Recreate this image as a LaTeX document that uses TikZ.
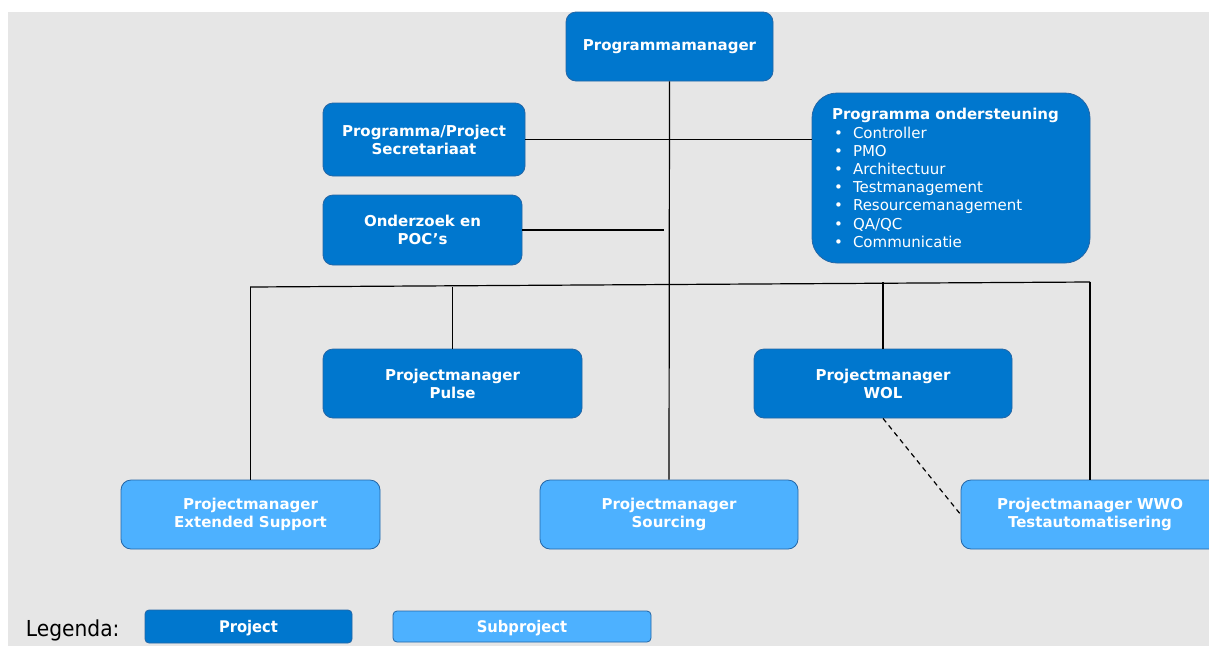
\documentclass[tikz,border=0pt]{standalone}
\usepackage{fontspec}
\setmainfont{DejaVu Sans}
\newfontfamily\legfont{DejaVu Sans}[FakeStretch=0.92]
\usetikzlibrary{positioning}

\definecolor{projblue}{HTML}{0077CE}
\definecolor{subblue}{HTML}{4DB1FF}
\definecolor{rim}{HTML}{2366A6}
\definecolor{bggray}{HTML}{E6E6E6}

\newcommand{\bul}{\makebox[21pt][l]{\hspace{2pt}\textbullet}}

\begin{document}
\begin{tikzpicture}[x=1pt,y=-1pt,line width=1.2pt]
  \tikzstyle{proj}=[draw=rim,line width=0.8pt,fill=projblue,text=white,rounded corners=10pt,
                    font=\fontsize{15}{18}\selectfont\bfseries,align=center,
                    inner sep=0pt,minimum height=69pt]
  \tikzstyle{sub}=[proj,fill=subblue]
  \tikzstyle{legbox}=[rounded corners=4pt,text depth=0pt,font=\legfont\fontsize{16}{18}\selectfont\bfseries]

  \clip (0,0) rectangle (1209,646);
  \fill[bggray] (8,12) rectangle (1209,646);

  % top of the organisation
  \node[proj,minimum width=207pt]		(pm)    at (669.5,46.5)	{Programmamanager};
  \node[proj,minimum width=202pt,minimum height=73pt]	(sec) at (424,139.5)	{Programma/Project\\Secretariaat};
  \node[proj,minimum width=199pt,minimum height=70pt]	(poc) at (422.5,230)	{Onderzoek en\\POC’s};
  \node[proj,rounded corners=25pt,minimum width=278pt,minimum height=170pt,
        text width=238pt,align=left,font=\fontsize{15}{18.2}\selectfont]	(ond) at (951,178)
       {\textbf{Programma ondersteuning}\\
        \bul Controller\\
        \bul PMO\\
        \bul Architectuur\\
        \bul Testmanagement\\
        \bul Resourcemanagement\\
        \bul QA/QC\\
        \bul Communicatie};

  % projects
  \node[proj,minimum width=259pt]	(pulse) at (452.5,383.5)	{Projectmanager\\Pulse};
  \node[proj,minimum width=258pt]	(wol)   at (883,383.5)	{Projectmanager\\WOL};

  % subprojects
  \node[sub,minimum width=259pt]	(ext) at (250.5,514.5)	{Projectmanager\\Extended Support};
  \node[sub,minimum width=258pt]	(src) at (669,514.5)	{Projectmanager\\Sourcing};
  \node[sub,minimum width=258pt]	(wwo) at (1090,514.5)	{Projectmanager WWO\\Testautomatisering};

  \coordinate (pocend) at (664,230);
  \coordinate (busl) at (250,287);
  \coordinate (busr) at (1090,282);

  \draw (pm.south) -- (src.north);
  \draw (sec.east) -- (ond.west |- sec.east);
  \draw (poc.east) -- (pocend);
  \draw (busl) -- (busr);
  \draw (ext.north) -- (ext.north |- busl);
  \draw (pulse.north) -- (pulse.north |- busl);
  \draw (wol.north) -- (wol.north |- busr);
  \draw (wwo.north) -- (busr);
  \draw[dash pattern=on 5pt off 4pt] (wol.south) -- (wwo.west);

  % legend
  \node[anchor=base west,font=\legfont\fontsize{22}{26}\selectfont]	(leg) at (22,636)	{Legenda:};
  \node[proj,legbox,minimum width=207pt,minimum height=33pt]	(lproj) at (248.5,626.5)	{Project};
  \node[sub,legbox,minimum width=258pt,minimum height=31pt]	(lsub) at (522,626.5)	{Subproject};
\end{tikzpicture}
\end{document}
